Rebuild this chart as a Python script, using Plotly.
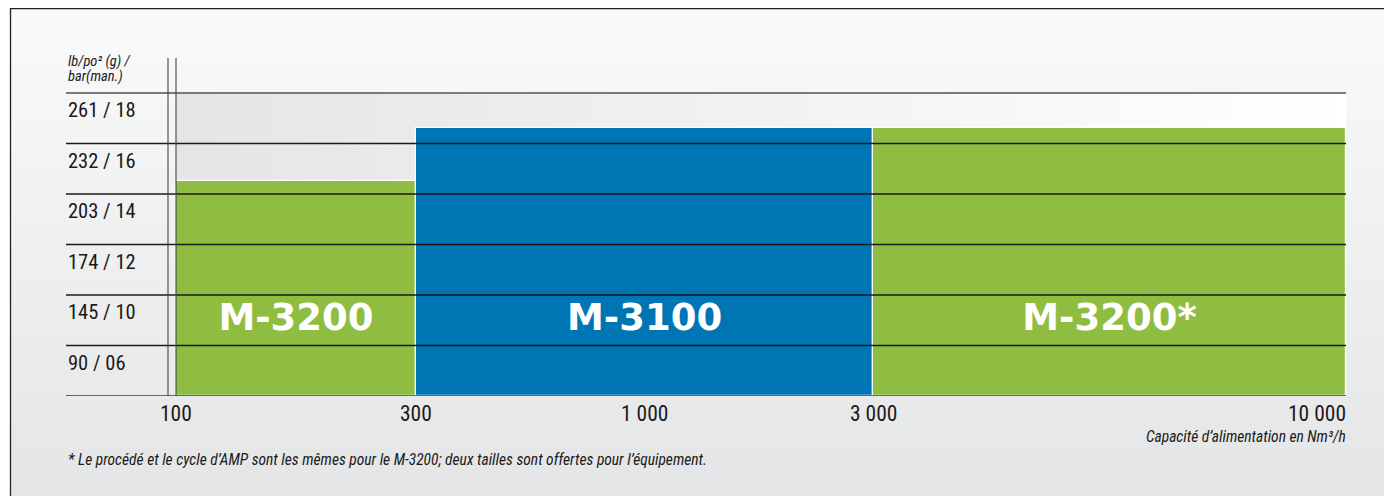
import base64
import numpy as np
import plotly.graph_objects as go

# page is shown with an 8px body margin, so the figure is 8px smaller
OFF = 8
W, H = 1392 - OFF, 496 - OFF

# ---------------- data ----------------
x_tick_values = [100, 300, 1000, 3000, 10000]
x_tick_labels = ["100", "300", "1 000", "3 000", "10 000"]
# the original uses a non-uniform horizontal scale; positions of each tick on it
x_tick_pos = [0.0, 1.048, 2.044, 3.044, 5.109]

y_tick_bar = [6, 10, 12, 14, 16, 18]
y_tick_labels = ["90 / 06", "145 / 10", "174 / 12", "203 / 14", "232 / 16", "261 / 18"]
y_tick_pos = [1, 2, 3, 4, 5, 6]

models = ["M-3200", "M-3100", "M-3200*"]
cap_min = [100, 300, 3000]
cap_max = [300, 3000, 10000]
pressure_max = [14.5, 16.6, 16.6]

y_title_lines = ["lb/po² (g) /", "bar(man.)"]
x_title = "Capacité d’alimentation en Nm³/h"
footnote = "* Le procédé et le cycle d’AMP sont les mêmes pour le M-3200; deux tailles sont offertes pour l’équipement."

# ---------------- styles ----------------
GREEN = "#8FBD42"
BLUE = "#0075B4"
bar_colors = [GREEN, BLUE, GREEN]
TEXT = "#1a1a1a"
NARROW = "Liberation Sans Narrow, Roboto Condensed, Roboto, sans-serif"


def xmap(v):
    return float(np.interp(np.log10(v), np.log10(x_tick_values), x_tick_pos))


def ymap(b):
    return float(np.interp(b, [0] + y_tick_bar, [0] + y_tick_pos))


# plot area geometry (page pixels)
PX_L, PX_R, PX_T, PX_B = 66, 1346, 58, 396
unit_x = (PX_R - 176) / (x_tick_pos[-1] - x_tick_pos[0])
unit_y = (PX_B - 93) / y_tick_pos[-1]
x_range = [x_tick_pos[0] - (176 - PX_L) / unit_x, x_tick_pos[-1]]
y_range = [0, (PX_B - PX_T) / unit_y]


def px(xp):
    return (xp - OFF) / W


def py(yp):
    return 1 - (yp - OFF) / H


def svg_uri(x2, y2, c0, c1):
    svg = ('<svg xmlns="http://www.w3.org/2000/svg" width="100" height="100" viewBox="0 0 100 100" '
           'preserveAspectRatio="none"><defs><linearGradient id="g" x1="0" y1="0" x2="%s" y2="%s">'
           '<stop offset="0" stop-color="%s"/><stop offset="1" stop-color="%s"/>'
           '</linearGradient></defs><rect width="100" height="100" fill="url(#g)"/></svg>') % (x2, y2, c0, c1)
    return "data:image/svg+xml;base64," + base64.b64encode(svg.encode()).decode()


fig = go.Figure()

# bars
xc = [(xmap(a) + xmap(b)) / 2 for a, b in zip(cap_min, cap_max)]
wd = [xmap(b) - xmap(a) for a, b in zip(cap_min, cap_max)]
fig.add_trace(go.Bar(
    x=xc, y=[ymap(p) for p in pressure_max], width=wd, base=0,
    marker=dict(color=bar_colors, line=dict(color="white", width=1.2)),
    hoverinfo="skip", showlegend=False))

# model labels (in the band between the two lowest grid lines)
fig.add_trace(go.Scatter(
    x=xc, y=[(y_tick_pos[0] + y_tick_pos[1]) / 2] * len(models),
    mode="text", text=models,
    textfont=dict(family="DejaVu Sans", size=37, color="white", weight="bold"),
    hoverinfo="skip", showlegend=False))

shapes = []
# frame
shapes.append(dict(type="line", xref="paper", yref="paper", x0=px(10), x1=1, y0=py(8.5), y1=py(8.5),
                   line=dict(color="#222", width=1.3)))
shapes.append(dict(type="line", xref="paper", yref="paper", x0=px(10.5), x1=px(10.5), y0=py(8), y1=0,
                   line=dict(color="#222", width=1.3)))
# horizontal grid lines
for i, p in enumerate(y_tick_pos):
    top = (i == len(y_tick_pos) - 1)
    shapes.append(dict(type="line", xref="paper", yref="y", x0=px(PX_L), x1=px(PX_R), y0=p, y1=p,
                       layer="above",
                       line=dict(color="#7a7a7a" if top else "#1a1a1a", width=2.2 if top else 1.6)))
# baseline
shapes.append(dict(type="line", xref="paper", yref="y", x0=px(PX_L), x1=px(PX_R), y0=0, y1=0,
                   layer="above", line=dict(color="#666", width=2)))
# double vertical line at the start of the scale
for off in [0.0, -8.0 / unit_x]:
    shapes.append(dict(type="line", xref="x", yref="paper", x0=x_tick_pos[0] + off, x1=x_tick_pos[0] + off,
                       y0=py(PX_B), y1=py(PX_T), layer="above", line=dict(color="#444", width=1.1)))

annotations = []
for lab, p in zip(y_tick_labels, y_tick_pos):
    annotations.append(dict(text=lab, xref="paper", yref="y", x=px(PX_L), y=p - 17 / unit_y,
                            xanchor="left", yanchor="middle", showarrow=False,
                            font=dict(family=NARROW, size=20.5, color=TEXT)))
for i, (lab, p) in enumerate(zip(x_tick_labels, x_tick_pos)):
    last = i == len(x_tick_labels) - 1
    annotations.append(dict(text=lab, xref="x", yref="paper", x=p, y=py(413),
                            xanchor="right" if last else "center", yanchor="middle", showarrow=False,
                            xshift=2 if last else 0,
                            font=dict(family=NARROW, size=21.5, color=TEXT)))
annotations.append(dict(text=x_title, xref="x", yref="paper", x=x_tick_pos[-1], y=py(437),
                        xanchor="right", yanchor="middle", showarrow=False, xshift=2,
                        font=dict(family=NARROW, size=15.5, color=TEXT, style="italic")))
for k, line in enumerate(y_title_lines):
    annotations.append(dict(text=line, xref="paper", yref="paper", x=px(PX_L), y=py(62 + 14 * k),
                            xanchor="left", yanchor="middle", align="left", showarrow=False,
                            font=dict(family=NARROW, size=14.5, color=TEXT, style="italic")))
annotations.append(dict(text=footnote, xref="paper", yref="paper", x=px(PX_L), y=py(460),
                        xanchor="left", yanchor="middle", showarrow=False,
                        font=dict(family=NARROW, size=15.5, color=TEXT, style="italic")))

x0g, x1g = xmap(x_tick_values[0]), xmap(x_tick_values[-1])
ytop = y_tick_pos[-1]

fig.update_layout(
    width=W, height=H,
    margin=dict(l=0, r=0, t=0, b=0, pad=0),
    paper_bgcolor="white", plot_bgcolor="rgba(0,0,0,0)",
    xaxis=dict(domain=[px(PX_L), px(PX_R)], range=x_range, visible=False, fixedrange=True),
    yaxis=dict(domain=[py(PX_B), py(PX_T)], range=y_range, visible=False, fixedrange=True),
    bargap=0,
    shapes=shapes, annotations=annotations,
    images=[
        dict(source=svg_uri(0, 1, "#fafafa", "#e4e5e6"), xref="paper", yref="paper", x=px(10), y=py(8),
             sizex=1 - px(10), sizey=py(8), xanchor="left", yanchor="top",
             sizing="stretch", layer="below"),
        dict(source=svg_uri(1, 0, "#e4e5e6", "#ffffff"), xref="x", yref="y", x=x0g, y=ytop,
             sizex=x1g - x0g, sizey=ytop, xanchor="left", yanchor="top",
             sizing="stretch", layer="below"),
    ],
)

fig.write_html("out.html")
